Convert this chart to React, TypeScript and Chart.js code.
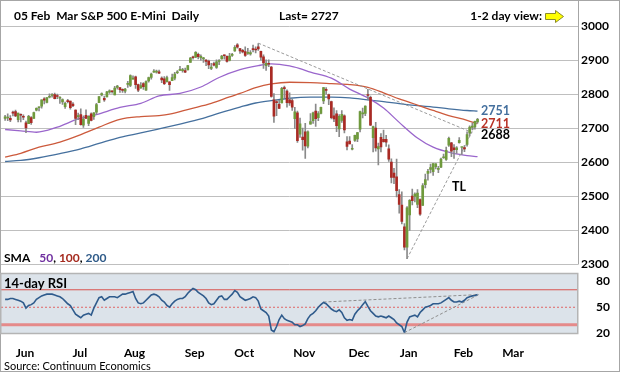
import React, { useEffect, useRef } from "react";
import { Chart, registerables } from "chart.js";
Chart.register(...registerables);

// ---------- data (one entry per trading day, 16 May 2018 .. 5 Feb 2019) ----------
const OPEN = [
  2730,2731,2730,2747,2750,2726,2742,2735,2717,2714,2732,
  2730,2754,2761,2766,2787,2777,2792,2797,2800,2796,2789,2778,2764,2782,2781,2772,2754,2735,2741,2710,2739,
  2715,2743,2735,2748,2776,2799,2789,2793,2807,2809,2799,2821,2820,2814,2810,2830,2827,2845,2852,2829,2819,
  2832,2813,2840,2850,2866,2866,2867,2848,2846,2838,2837,2841,2848,2864,2871,2870,2870,2872,2894,2911,2910,2918,2908,
  2905,2901,2898,2877,2891,2880,2897,2905,2915,2912,2900,2915,2928,2946,2935,2930,2926,2921,2919,
  2934,2932,2940,2927,2911,2885,2890,2881,2784,2779,2771,2775,2820,2810,2784,2782,2729,2746,2683,2675,2690,2648,2713,
  2723,2751,2732,2744,2781,2813,2800,2779,2737,2743,2699,2724,2737,2661,2663,2639,2665,2669,2698,2743,2744,
  2800,2792,2673,2701,2640,2674,2668,2668,2640,2601,2569,2558,2506,2475,2411,2351,2446,2501,2500,
  2477,2491,2474,2535,2568,2580,2573,2588,2580,2586,2614,2609,2651,2658,2643,2638,2658,2644,2644,2653,2686,
  2703,2705,2719,
];
const HIGH = [
  2739,2743,2738,2751,2754,2745,2743,2740,2722,2739,2735,
  2748,2761,2764,2784,2791,2791,2802,2803,2804,2801,2794,2787,2778,2786,2781,2776,2755,2745,2758,2737,2755,
  2737,2746,2747,2774,2794,2805,2795,2809,2814,2811,2824,2827,2820,2817,2818,2839,2858,2855,2854,2831,2835,
  2835,2840,2851,2863,2873,2872,2872,2852,2853,2854,2837,2860,2865,2870,2883,2877,2878,2886,2909,2913,2926,2922,2917,
  2909,2903,2901,2892,2895,2902,2903,2915,2917,2914,2921,2921,2944,2950,2936,2933,2940,2936,2929,
  2945,2940,2950,2928,2917,2902,2902,2883,2803,2784,2783,2821,2825,2814,2805,2787,2762,2751,2731,2701,2715,2693,2744,
  2748,2772,2750,2763,2821,2820,2801,2781,2761,2753,2741,2753,2740,2676,2676,2653,2681,2689,2751,2760,2767,
  2815,2795,2707,2718,2657,2685,2695,2680,2652,2611,2583,2610,2520,2514,2420,2470,2491,2522,2511,
  2520,2493,2538,2566,2580,2595,2597,2597,2589,2613,2625,2645,2675,2659,2653,2647,2673,2644,2650,2690,2708,
  2716,2722,2730,
];
const LOW = [
  2724,2723,2720,2737,2735,2719,2719,2726,2688,2714,2712,
  2730,2752,2752,2760,2772,2775,2790,2792,2787,2788,2774,2771,2759,2775,2757,2764,2711,2726,2710,2703,2730,
  2708,2722,2727,2742,2776,2796,2780,2793,2803,2804,2799,2816,2806,2806,2805,2821,2823,2845,2818,2808,2818,
  2815,2812,2836,2845,2865,2863,2861,2835,2829,2836,2812,2841,2843,2861,2871,2866,2864,2872,2894,2904,2908,2905,2901,
  2894,2885,2876,2873,2884,2877,2888,2904,2904,2895,2899,2912,2927,2936,2921,2922,2912,2918,2916,
  2925,2922,2930,2901,2877,2871,2882,2792,2718,2738,2758,2775,2789,2763,2768,2753,2700,2659,2674,2636,2612,2643,2713,
  2715,2706,2723,2743,2773,2801,2770,2728,2720,2691,2676,2718,2687,2637,2655,2637,2662,2661,2690,2731,2738,
  2784,2708,2631,2633,2593,2631,2660,2647,2603,2540,2538,2499,2451,2419,2343,2317,2400,2475,2484,
  2467,2444,2474,2525,2548,2569,2562,2581,2570,2585,2612,2606,2647,2617,2612,2627,2657,2624,2632,2648,2678,
  2696,2698,2716,
];
const CLOSE = [
  2734,2732,2725,2745,2737,2745,2739,2733,2702,2736,2717,
  2747,2759,2761,2784,2783,2791,2794,2799,2788,2794,2791,2785,2774,2779,2761,2767,2730,2735,2711,2728,2730,
  2736,2724,2746,2770,2794,2803,2784,2808,2811,2808,2819,2825,2814,2812,2816,2830,2856,2847,2829,2813,2826,
  2823,2838,2850,2860,2868,2867,2863,2843,2832,2850,2829,2850,2860,2867,2873,2871,2866,2885,2907,2908,2924,2911,2912,
  2905,2897,2887,2881,2886,2896,2897,2913,2914,2897,2913,2916,2939,2939,2928,2925,2915,2923,2923,
  2932,2931,2934,2910,2893,2892,2889,2794,2736,2776,2759,2818,2817,2776,2775,2763,2749,2664,2714,2667,2649,2690,2720,
  2746,2729,2744,2762,2820,2812,2787,2732,2728,2708,2736,2742,2696,2647,2655,2639,2680,2688,2750,2744,2766,
  2797,2710,2706,2643,2647,2646,2661,2660,2610,2556,2556,2517,2477,2427,2351,2467,2489,2488,2507,
  2510,2448,2532,2550,2574,2585,2597,2596,2583,2610,2616,2636,2671,2633,2638,2643,2665,2644,2640,2682,2704,
  2707,2721,2727,
];
const RSI = [
  59,59,60,60,59,58,57,55,49,52,
  53,55,59,61,63,64,65,65,65,64,
  63,62,60,57,54,52,47,42,40,38,
  41,42,43,41,49,55,61,62,58,60,
  62,62,62,61,63,65,65,66,67,68,
  60,55,54,55,58,61,64,65,64,62,
  58,56,52,50,54,57,59,60,60,62,
  66,69,71.5,70,67,65,63,60,55,53,
  54,58,62,63,59,59,62,65,69,67,
  62,60,58,59,60,62,61,57,48,46,
  44,40,24,22,28,36,41,37,35,34,
  33,30,30,28,29,31,37,41,43,46,
  50,53,55.5,54,51,48,46,45,47,44,
  38,35,36,35,42,46,49,53,56.5,51,
  46,43,40,39,40,39,38,40,38,36,
  32,30,28,21,33,39,40,41,39,44,
  47,50,51,52,54,54,54,55,57,59,
  61,58,56,56,57,56,58,61,62,63,
  63.5,64.5,
];

// moving averages (day index, value)
const SMA50_DAY = [0,6,12,20,28,35,44,52,59,67,75,82,90,97,102,109,113,117,125,132,139,145,151,158,164,171,177,181];
const SMA50 = [2697,2693,2689,2704,2728,2741,2762,2774,2796,2803,2822,2850,2873,2885,2890,2884,2876,2866,2848,2816,2790,2760,2718,2672,2645,2628,2620,2617];
const SMA100_DAY = [0,6,13,21,29,36,44,52,59,63,71,79,86,90,96,102,109,117,125,132,139,145,151,158,164,170,177,181];
const SMA100 = [2616,2627,2645,2660,2682,2704,2727,2735,2738,2742,2758,2774,2793,2803,2820,2831,2836,2835,2832,2829,2821,2805,2787,2769,2753,2738,2724,2714];
const SMA200_DAY = [0,6,13,21,29,36,44,52,59,67,75,82,90,96,102,109,117,125,132,139,145,151,158,164,170,177,181];
const SMA200 = [2603,2606,2614,2626,2640,2656,2674,2687,2699,2713,2728,2745,2763,2775,2782,2789,2792,2792,2790,2784,2779,2773,2767,2763,2758,2753,2751];

// trend lines
const DOWN_TL_DAY = [97, 179];
const DOWN_TL = [2951, 2688];
const UP_TL_DAY = [154, 181];
const UP_TL = [2317, 2722];
const RSI_TL1_DAY = [122, 181.5];
const RSI_TL1 = [56, 64.5];
const RSI_TL2_DAY = [153, 181.5];
const RSI_TL2 = [21, 64.5];

// axes / labels
const MONTHS = ["Jun", "Jul", "Aug", "Sep", "Oct", "Nov", "Dec", "Jan", "Feb", "Mar"];
const MONTH_FIRST_DAY = [11, 32, 53, 76, 95, 118, 139, 158, 179, 198];
const RSI_TICKS = [20, 50, 80];
const RSI_LEVELS = [70, 50, 30];
const LEVEL_VALUES = [2751, 2711, 2688];
const LEVEL_TEXT = ["2751", "2711", "2688"];
const SMA_PERIODS = ["50", "100", "200"];
const LAST = "2727";

const FONT = "Lato, 'Open Sans', sans-serif";
const XMIN = -1.571;
const XMAX = 219.5;
const GREEN = "#6f9a3c";
const RED = "#aa2a24";
const WICK = "#8a8a8a";
const C50 = "#9a66cc";
const C100 = "#cc5a3c";
const C200 = "#45709e";

const pts = (xs: number[], ys: number[]) => xs.map((x, i) => ({ x, y: ys[i] }));

export default function App() {
  const mainRef = useRef<HTMLCanvasElement>(null);
  const rsiRef = useRef<HTMLCanvasElement>(null);

  useEffect(() => {
    const days = CLOSE.map((_, i) => i);
    const wick = days.map((i) => ({ x: i, y: [LOW[i], HIGH[i]] }));
    const body = days.map((i) => ({ x: i, y: [OPEN[i], CLOSE[i]] }));
    const bodyColors = days.map((i) => (CLOSE[i] >= OPEN[i] ? GREEN : RED));

    const mainDecor = {
      id: "mainDecor",
      afterDraw(chart: any) {
        const ctx = chart.ctx as CanvasRenderingContext2D;
        const ys = chart.scales.y;
        const area = chart.chartArea;
        ctx.save();
        ctx.strokeStyle = "#a6a6a6";
        ctx.lineWidth = 1;
        ctx.beginPath();
        ctx.moveTo(578.5, 0);
        ctx.lineTo(578.5, area.bottom);
        ctx.stroke();
        ctx.strokeRect(0.5, 0.5, 619, 371);

        ctx.fillStyle = "#000";
        ctx.textBaseline = "middle";
        ctx.font = `bold 12px ${FONT}`;
        ctx.textAlign = "left";
        ctx.fillText("05 Feb  Mar S&P 500 E-Mini  Daily", 14, 16);
        ctx.fillText("Last= " + LAST, 279, 16);
        ctx.textAlign = "right";
        ctx.fillText("1-2 day view:", 542, 16);

        // yellow arrow
        ctx.beginPath();
        ctx.moveTo(545.5, 13.5);
        ctx.lineTo(555.5, 13.5);
        ctx.lineTo(555.5, 10.5);
        ctx.lineTo(563.5, 16.5);
        ctx.lineTo(555.5, 22.5);
        ctx.lineTo(555.5, 19.5);
        ctx.lineTo(545.5, 19.5);
        ctx.closePath();
        ctx.fillStyle = "#ffff00";
        ctx.fill();
        ctx.strokeStyle = "#8c8c2a";
        ctx.stroke();

        // level labels
        ctx.textAlign = "left";
        ctx.font = `bold 12.5px ${FONT}`;
        const lc = [C200, "#b83226", "#000"];
        const dy = [0, -0.5, 2];
        LEVEL_VALUES.forEach((v, i) => {
          ctx.fillStyle = lc[i];
          ctx.fillText(LEVEL_TEXT[i], 481, ys.getPixelForValue(v) + dy[i]);
        });
        ctx.fillStyle = "#000";
        ctx.fillText("TL", 452, 187);

        // SMA legend
        ctx.font = `bold 12px ${FONT}`;
        let x = 4;
        const yL = 258;
        const put = (t: string, c: string, gap = 0) => {
          ctx.fillStyle = c;
          ctx.fillText(t, x, yL);
          x += ctx.measureText(t).width + gap;
        };
        put("SMA", "#000", 9);
        put(SMA_PERIODS[0], "#7030a0");
        put(", ", "#000");
        put(SMA_PERIODS[1], "#a52a1e");
        put(", ", "#000");
        put(SMA_PERIODS[2], "#2e5a88");
        ctx.restore();
      },
    };

    const main = new Chart(mainRef.current as HTMLCanvasElement, {
      type: "bar",
      data: {
        datasets: [
          { type: "line", data: pts(DOWN_TL_DAY, DOWN_TL), borderColor: "#9a9a9a", borderWidth: 1, borderDash: [3, 2], pointRadius: 0, order: 2 } as any,
          { type: "line", data: pts(UP_TL_DAY, UP_TL), borderColor: "#9a9a9a", borderWidth: 1, borderDash: [3, 2], pointRadius: 0, order: 2 } as any,
          { type: "line", data: pts(SMA200_DAY, SMA200), borderColor: C200, borderWidth: 1.3, pointRadius: 0, cubicInterpolationMode: "monotone", order: 5 } as any,
          { type: "line", data: pts(SMA100_DAY, SMA100), borderColor: C100, borderWidth: 1.3, pointRadius: 0, cubicInterpolationMode: "monotone", order: 4 } as any,
          { type: "line", data: pts(SMA50_DAY, SMA50), borderColor: C50, borderWidth: 1.3, pointRadius: 0, cubicInterpolationMode: "monotone", order: 3 } as any,
          { type: "bar", data: wick, backgroundColor: WICK, barThickness: 1, grouped: false, order: 1 } as any,
          { type: "bar", data: body, backgroundColor: bodyColors, barThickness: 2, grouped: false, minBarLength: 1, order: 0 } as any,
        ],
      },
      options: {
        responsive: false,
        animation: false,
        devicePixelRatio: 1,
        layout: { padding: { left: 1, top: 26.5, bottom: 107.5, right: 0 } },
        plugins: { legend: { display: false }, tooltip: { enabled: false } },
        scales: {
          x: { type: "linear", min: XMIN, max: XMAX, offset: false, display: false },
          y: {
            position: "right",
            min: 2300,
            max: 3000,
            afterFit: (s: any) => { s.width = 42; },
            ticks: {
              stepSize: 100,
              padding: 3,
              color: "#000",
              crossAlign: "near",
              font: { family: FONT, size: 12, weight: "bold" },
              callback: (v: any) => String(v),
            },
            grid: { color: "#bfbfbf", drawTicks: false },
            border: { display: false },
          },
        },
      } as any,
      plugins: [mainDecor],
    });

    const rsiDecor = {
      id: "rsiDecor",
      beforeDatasetsDraw(chart: any) {
        const ctx = chart.ctx as CanvasRenderingContext2D;
        const a = chart.chartArea;
        ctx.save();
        ctx.fillStyle = "#dce3ea";
        ctx.fillRect(a.left, a.top, a.right - a.left, a.bottom - a.top);
        ctx.restore();
      },
      afterDraw(chart: any) {
        const ctx = chart.ctx as CanvasRenderingContext2D;
        const a = chart.chartArea;
        ctx.save();
        ctx.strokeStyle = "#b4b4b4";
        ctx.lineWidth = 1.5;
        ctx.strokeRect(a.left - 0.25, a.top, a.right - a.left, a.bottom - a.top);
        ctx.fillStyle = "#000";
        ctx.textBaseline = "middle";
        ctx.textAlign = "left";
        ctx.font = `bold 13px ${FONT}`;
        ctx.fillText("14-day RSI", 4, 284);
        ctx.font = `11px ${FONT}`;
        ctx.fillText("Source: Continuum Economics", 4, 366.5);
        ctx.restore();
      },
    };

    const lvl = (v: number, color: string, width: number, dash: number[]) => ({
      type: "line",
      data: [{ x: XMIN, y: v }, { x: XMAX, y: v }],
      borderColor: color,
      borderWidth: width,
      borderDash: dash,
      pointRadius: 0,
      order: 5,
    });

    const rsi = new Chart(rsiRef.current as HTMLCanvasElement, {
      type: "line",
      data: {
        datasets: [
          lvl(RSI_LEVELS[0], "#d9534f", 1, []),
          lvl(RSI_LEVELS[1], "#e06666", 1, [2, 2]),
          lvl(RSI_LEVELS[2], "#e58a8a", 3, []),
          { data: pts(RSI_TL1_DAY, RSI_TL1), borderColor: "#8f8f8f", borderWidth: 1, borderDash: [3, 2], pointRadius: 0, order: 2 },
          { data: pts(RSI_TL2_DAY, RSI_TL2), borderColor: "#8f8f8f", borderWidth: 1, borderDash: [3, 2], pointRadius: 0, order: 2 },
          { data: RSI.map((v, i) => ({ x: i, y: v })), borderColor: "#2f5b8c", borderWidth: 1.6, pointRadius: 0, order: 1 },
        ] as any,
      },
      options: {
        responsive: false,
        animation: false,
        devicePixelRatio: 1,
        layout: { padding: { left: 1, top: 273.5, bottom: 8.1, right: 0 } },
        plugins: { legend: { display: false }, tooltip: { enabled: false } },
        scales: {
          x: {
            type: "linear",
            min: XMIN,
            max: XMAX,
            offset: false,
            afterBuildTicks: (s: any) => { s.ticks = MONTH_FIRST_DAY.map((d) => ({ value: d - 3.4 })); },
            ticks: {
              autoSkip: false,
              maxRotation: 0,
              padding: 4,
              color: "#000",
              font: { family: FONT, size: 12, weight: "bold" },
              callback: (_v: any, i: number) => MONTHS[i],
            },
            grid: { display: false },
            border: { display: false },
          },
          y: {
            position: "right",
            min: 20,
            max: 88.6,
            afterFit: (s: any) => { s.width = 42; },
            afterBuildTicks: (s: any) => { s.ticks = RSI_TICKS.map((v) => ({ value: v })); },
            ticks: { padding: 10, color: "#000", crossAlign: "near", font: { family: FONT, size: 12, weight: "bold" } },
            grid: { display: false },
            border: { display: false },
          },
        },
      } as any,
      plugins: [rsiDecor],
    });

    return () => {
      main.destroy();
      rsi.destroy();
    };
  }, []);

  return (
    <div style={{ position: "absolute", left: 0, top: 0, width: 620, height: 372, background: "#fff", overflow: "hidden" }}>
      <canvas ref={mainRef} width={620} height={372} style={{ position: "absolute", left: 0, top: 0, width: 620, height: 372 }} />
      <canvas ref={rsiRef} width={620} height={372} style={{ position: "absolute", left: 0, top: 0, width: 620, height: 372 }} />
    </div>
  );
}
